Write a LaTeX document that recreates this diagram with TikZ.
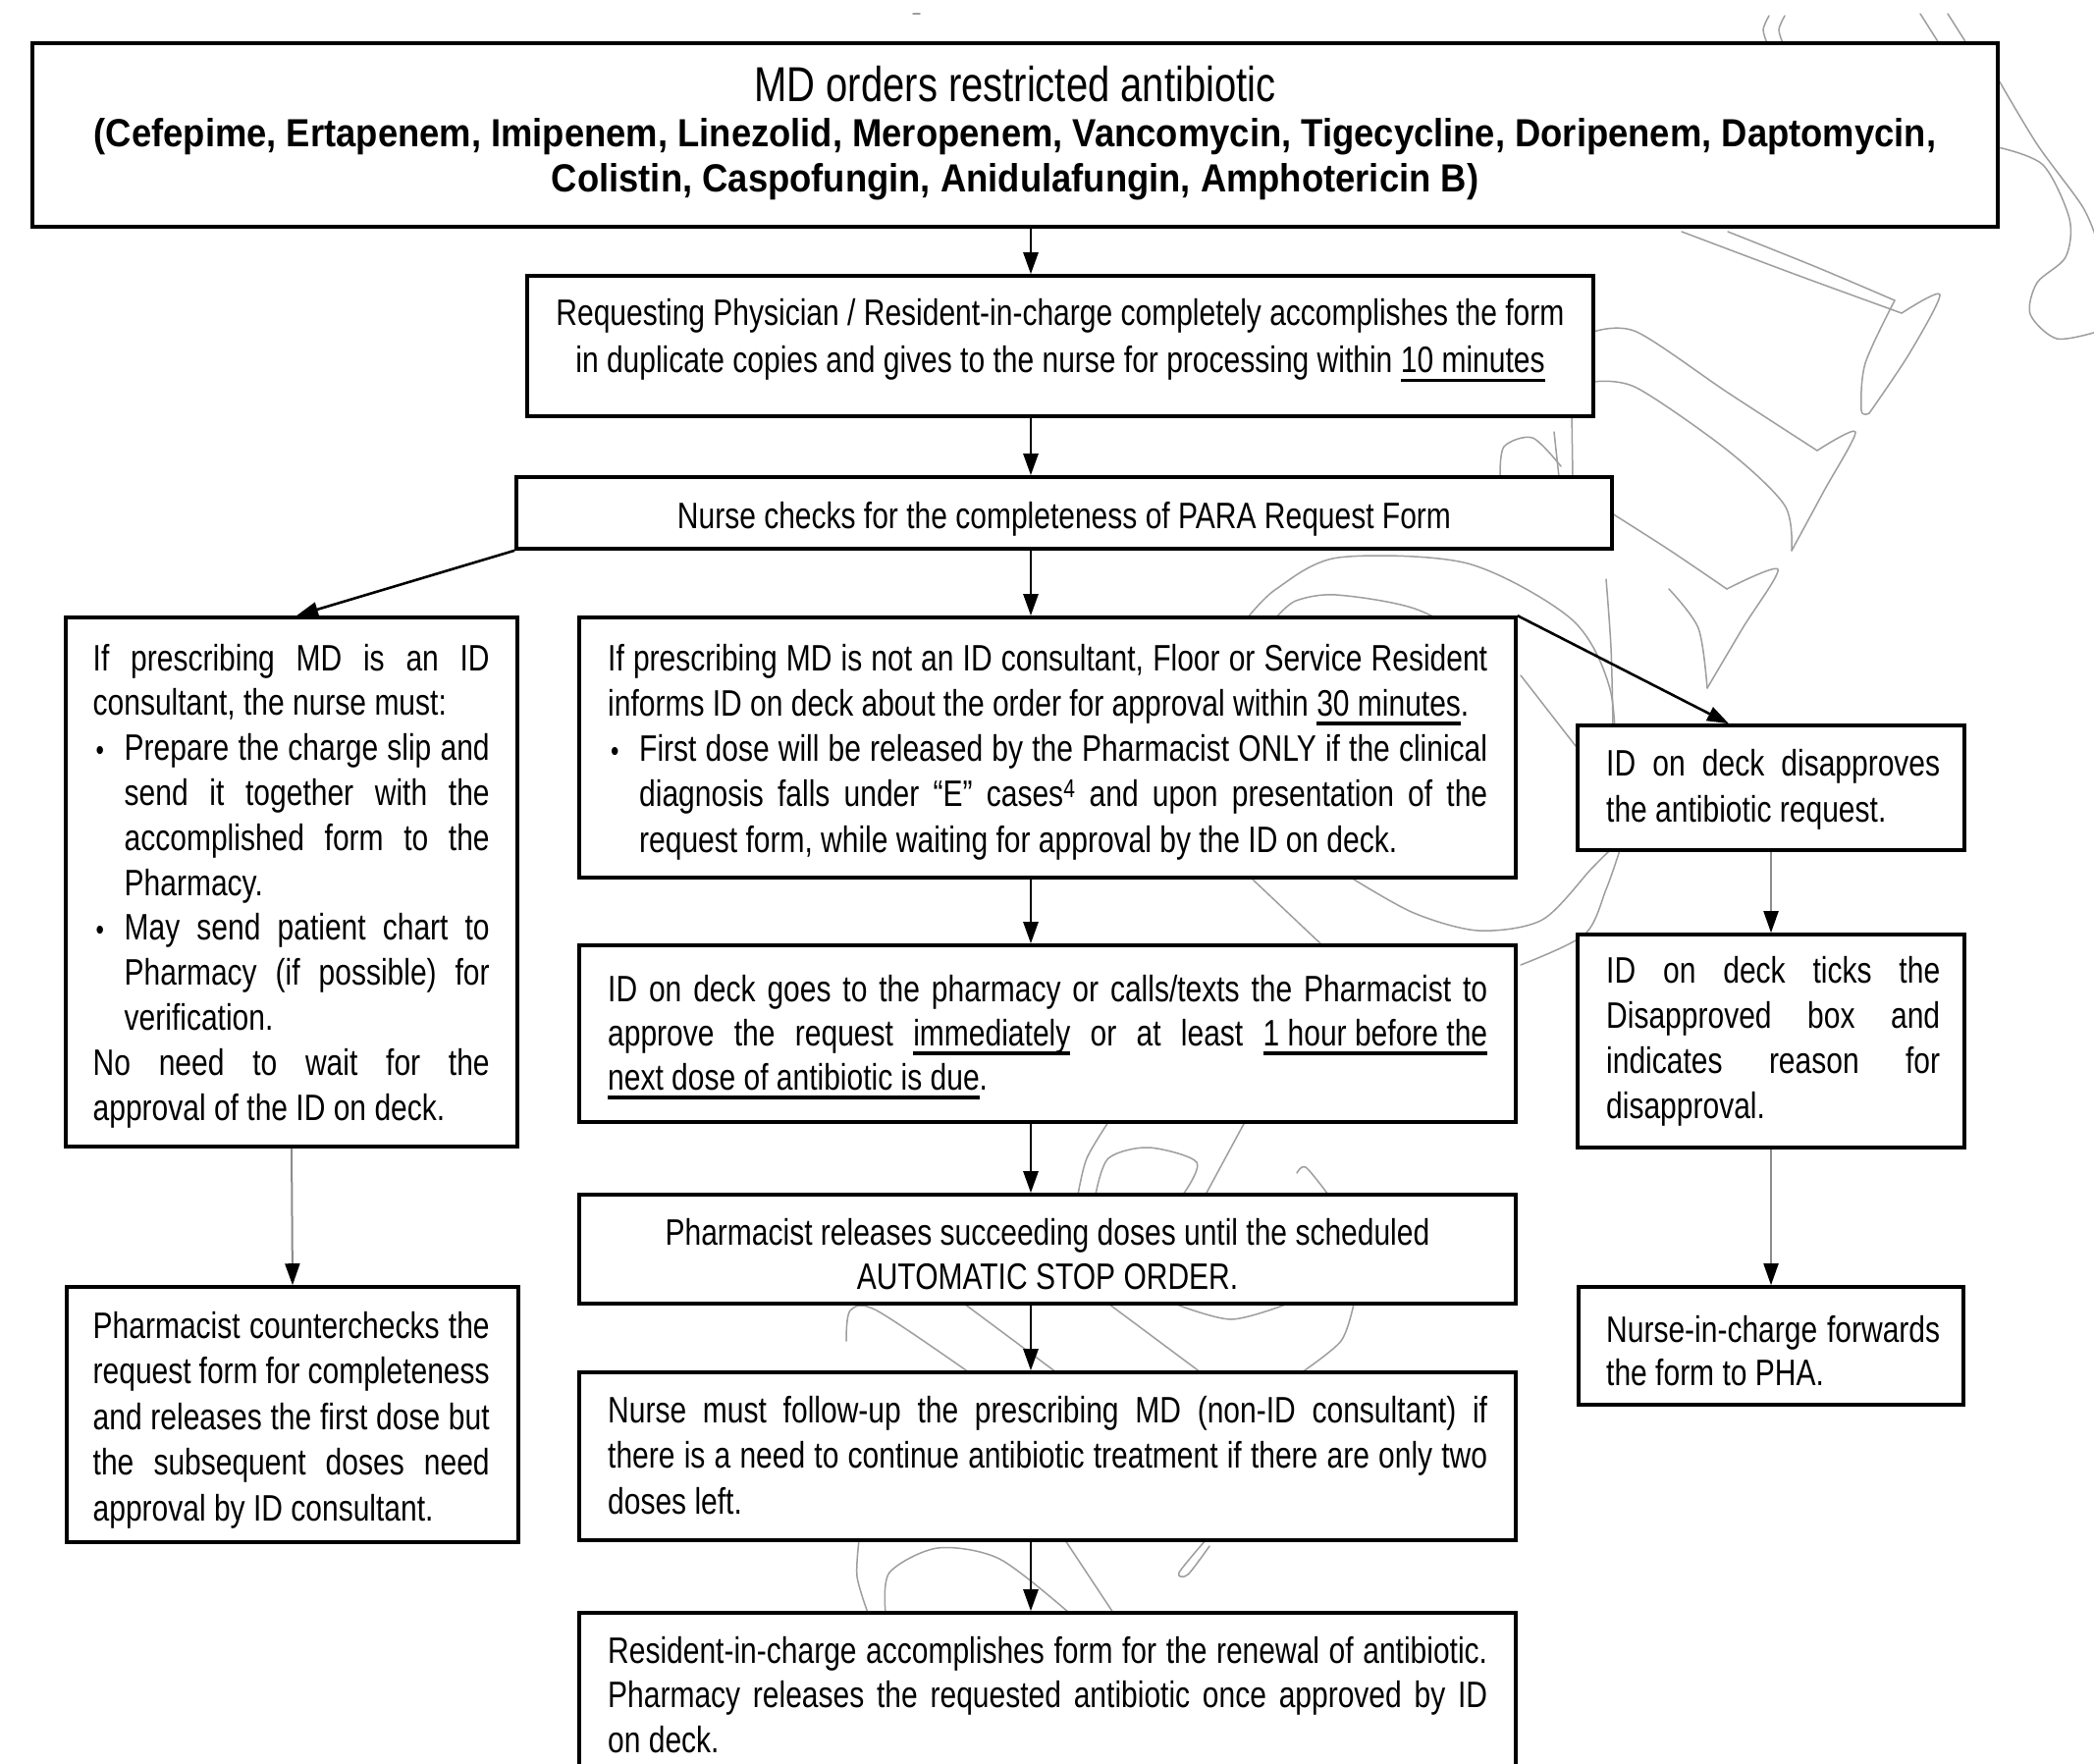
\documentclass[tikz,border=0pt]{standalone}
\usepackage{fontspec}
\setmainfont{Liberation Sans}[FakeStretch=0.8]
\newfontfamily\boldwide{Liberation Sans}[FakeStretch=0.91]
\usetikzlibrary{arrows.meta,calc}
\newcommand\JL[2]{\makebox[#1][s]{\spaceskip=8.34pt plus 40pt minus 2pt\relax\xspaceskip=\spaceskip #2}}
\newcommand\UL[1]{\leavevmode\setbox0\hbox{#1}\rlap{\rule[-9.5pt]{\wd0}{3.5pt}}\box0\relax}
\newcommand\fbody[1]{\fontsize{37.5}{#1}\selectfont}
\newcommand\sps{\spaceskip=8.34pt\relax\xspaceskip=8.34pt\relax}
\newcommand\bul{\makebox[32pt][l]{\hspace{3pt}{\fontsize{30}{30}\selectfont •}}}
\tikzset{
  box/.style={draw, fill=white, line width=3.6pt, inner sep=0pt, rectangle},
  tx/.style={inner sep=0pt, anchor=base west, align=left},
  ctx/.style={inner sep=0pt, anchor=base, align=center},
  arr/.style={line width=2.6pt, -{Triangle[length=22pt,width=15pt]}},
  garr/.style={line width=2pt, draw=black!45, -{Triangle[length=22pt,width=15pt,color=black]}},
  wm/.style={draw=black!38, line width=1.5pt, line cap=round, line join=round},
}
\begin{document}
\begin{tikzpicture}[x=1pt,y=-1pt]
\clip (0,0) rectangle (2133,1796);
\fill[white] (0,0) rectangle (2133,1796);
% ---- faint watermark strokes (behind the boxes)
\draw[wm] (930,14) -- (937,14);
\draw[wm] plot[smooth] coordinates {(1800,44) (1796,30) (1802,16)};
\draw[wm] plot[smooth] coordinates {(1816,44) (1812,30) (1818,16)};
\draw[wm] (1956,14) -- (1975,44);
\draw[wm] (1984,14) -- (2003,44);
\draw[wm] plot[smooth] coordinates {(2035,80) (2075,147) (2121,210) (2136,245)};
\draw[wm] plot[smooth] coordinates {(2035,150) (2081,168) (2108,223) (2104,262) (2075,288) (2068,320) (2095,345) (2136,338)};
\draw[wm] plot[smooth] coordinates {(1713,236) (1830,280) (1937,319)};
\draw[wm] plot[smooth] coordinates {(1760,236) (1850,272) (1930,306)};
\draw[wm] plot[smooth] coordinates {(1937,319) (1976,300) (1945,360) (1904,421)};
\draw[wm] plot[smooth] coordinates {(1930,306) (1900,370) (1896,418) (1904,421)};
\draw[wm] plot[smooth] coordinates {(1623,338) (1667,338) (1760,400) (1851,459)};
\draw[wm] plot[smooth] coordinates {(1851,459) (1890,440) (1858,500) (1825,561)};
\draw[wm] plot[smooth] coordinates {(1623,389) (1667,395) (1760,459) (1818,515) (1825,561)};
\draw[wm] plot[smooth] coordinates {(1642,523) (1700,560) (1759,600)};
\draw[wm] plot[smooth] coordinates {(1759,600) (1811,580) (1775,640) (1739,701)};
\draw[wm] plot[smooth] coordinates {(1700,600) (1730,640) (1739,701)};
\draw[wm] plot[smooth] coordinates {(1528,486) (1532,455) (1561,446) (1590,475)};
\draw[wm] (1583,440) -- (1588,486);
\draw[wm] (1601,421) -- (1602,486);
\draw[wm] plot[smooth] coordinates {(1271,629) (1300,600) (1363,568) (1495,574) (1601,631) (1640,702) (1647,797)};
\draw[wm] plot[smooth] coordinates {(1300,629) (1320,612) (1361,606) (1441,620) (1520,660)};
\draw[wm] (1549,688) -- (1605,760);
\draw[wm] plot[smooth] coordinates {(1636,590) (1641,660) (1643,738)};
\draw[wm] (1274,894) -- (1347,963);
\draw[wm] plot[smooth] coordinates {(1376,894) (1440,930) (1506,948) (1571,937) (1621,885) (1640,866)};
\draw[wm] plot[smooth] coordinates {(1549,983) (1614,952) (1636,906) (1650,866)};
\draw[wm] plot[smooth] coordinates {(1098,1217) (1107,1180) (1129,1143)};
\draw[wm] plot[smooth] coordinates {(1116,1217) (1129,1180) (1170,1169) (1219,1184) (1205,1217)};
\draw[wm] (1228,1217) -- (1268,1143);
\draw[wm] plot[smooth] coordinates {(1321,1195) (1330,1189) (1353,1217)};
\draw[wm] plot[smooth] coordinates {(862,1366) (866,1335) (893,1335) (987,1398)};
\draw[wm] (982,1328) -- (1076,1398);
\draw[wm] (1129,1328) -- (1223,1398);
\draw[wm] plot[smooth] coordinates {(1196,1328) (1254,1344) (1312,1328)};
\draw[wm] plot[smooth] coordinates {(1379,1328) (1366,1366) (1326,1398)};
\draw[wm] plot[smooth] coordinates {(875,1569) (873,1606) (884,1643)};
\draw[wm] plot[smooth] coordinates {(902,1643) (906,1602) (955,1577) (1018,1588) (1089,1643)};
\draw[wm] (1085,1569) -- (1134,1643);
\draw[wm] plot[smooth] coordinates {(1228,1569) (1201,1602) (1210,1604) (1232,1575)};
% ---- boxes
\node[box, line width=4.4pt, minimum width=2002pt, minimum height=187pt] (n1) at (1034,137.5) {};
\node[box, minimum width=1086pt, minimum height=143pt] (n2) at (1080,352.5) {};
\node[box, minimum width=1116pt, minimum height=73pt] (n3) at (1084,522.5) {};
\node[box, minimum width=460pt, minimum height=539pt] (A) at (297,898.5) {};
\node[box, minimum width=954pt, minimum height=265pt] (B) at (1067,761.5) {};
\node[box, minimum width=954pt, minimum height=180pt] (C) at (1067,1053) {};
\node[box, minimum width=954pt, minimum height=111pt] (D) at (1067,1272.5) {};
\node[box, minimum width=954pt, minimum height=171pt] (E) at (1067,1483.5) {};
\node[box, minimum width=954pt, minimum height=257pt] (F) at (1067,1771.5) {};
\node[box, minimum width=460pt, minimum height=260pt] (L2) at (298,1441) {};
\node[box, minimum width=394pt, minimum height=127pt] (R1) at (1804,802.5) {};
\node[box, minimum width=394pt, minimum height=217pt] (R2) at (1804,1060.5) {};
\node[box, minimum width=392pt, minimum height=120pt] (R3) at (1804,1371) {};
% ---- texts
\node[ctx, text width=2000pt, font={\boldwide\bfseries\fontsize{40}{46}\selectfont}] (n1t) at (1034,103) {%
  \spaceskip=10.1pt\relax\xspaceskip=10.1pt\relax
  {\mdseries\rmfamily\fontsize{50}{46}\selectfont\spaceskip=11.1pt\relax MD orders restricted antibiotic}\\
  (Cefepime, Ertapenem, Imipenem, Linezolid, Meropenem, Vancomycin, Tigecycline, Doripenem, Daptomycin,\\
  Colistin, Caspofungin, Anidulafungin, Amphotericin B)};
\node[ctx, text width=1080pt, font=\fbody{48}] (n2t) at (1080,331.5) {\sps
  Requesting Physician / Resident-in-charge completely accomplishes the form\\
  in duplicate copies and gives to the nurse for processing within \UL{10 minutes}};
\node[ctx, text width=1100pt, font=\fbody{46}] (n3t) at (1084,538) {\sps Nurse checks for the completeness of PARA Request Form};
\node[tx, text width=404pt, font=\fbody{45.8}] (At) at (94.5,683) {\sps
  \JL{404pt}{If prescribing MD is an ID}\\
  consultant, the nurse must:\\
  \bul\JL{372pt}{Prepare the charge slip and}\\
  \hspace*{32pt}\JL{372pt}{send it together with the}\\
  \hspace*{32pt}\JL{372pt}{accomplished form to the}\\
  \hspace*{32pt}Pharmacy.\\
  \bul\JL{372pt}{May send patient chart to}\\
  \hspace*{32pt}\JL{372pt}{Pharmacy (if possible) for}\\
  \hspace*{32pt}verification.\\
  \JL{404pt}{No need to wait for the}\\
  approval of the ID on deck.};
\node[tx, text width=896pt, font=\fbody{46.25}] (Bt) at (619,683) {\sps
  \JL{896pt}{If prescribing MD is not an ID consultant, Floor or Service Resident}\\
  \mbox{informs ID on deck about the order for approval within \UL{30 minutes}.}\\
  \bul\JL{864pt}{First dose will be released by the Pharmacist ONLY if the clinical}\\
  \hspace*{32pt}\JL{864pt}{diagnosis falls under “E” cases\textsuperscript{4} and upon presentation of the}\\
  \hspace*{32pt}\mbox{request form, while waiting for approval by the ID on deck.}};
\node[tx, text width=896pt, font=\fbody{45}] (Ct) at (619,1020) {\sps
  \JL{896pt}{ID on deck goes to the pharmacy or calls/texts the Pharmacist to}\\
  \JL{896pt}{approve the request \UL{immediately} or at least \UL{1 hour before the}}\\
  \UL{next dose of antibiotic is due}.};
\node[ctx, text width=950pt, font=\fbody{45}] (Dt) at (1067,1268) {\sps
  Pharmacist releases succeeding doses until the scheduled\\
  AUTOMATIC STOP ORDER.};
\node[tx, text width=896pt, font=\fbody{46.5}] (Et) at (619,1449) {\sps
  \JL{896pt}{Nurse must follow-up the prescribing MD (non-ID consultant) if}\\
  \JL{896pt}{there is a need to continue antibiotic treatment if there are only two}\\
  doses left.};
\node[tx, text width=896pt, font=\fbody{45.5}] (Ft) at (619,1694) {\sps
  \JL{896pt}{Resident-in-charge accomplishes form for the renewal of antibiotic.}\\
  \JL{896pt}{Pharmacy releases the requested antibiotic once approved by ID}\\
  on deck.};
\node[tx, text width=404pt, font=\fbody{46.5}] (L2t) at (94.5,1363) {\sps
  \JL{404pt}{Pharmacist counterchecks the}\\
  \JL{404pt}{request form for completeness}\\
  \JL{404pt}{and releases the first dose but}\\
  \JL{404pt}{the subsequent doses need}\\
  approval by ID consultant.};
\node[tx, text width=340pt, font=\fbody{47}] (R1t) at (1636,790) {\sps
  \JL{340pt}{ID on deck disapproves}\\
  the antibiotic request.};
\node[tx, text width=340pt, font=\fbody{46}] (R2t) at (1636,1001) {\sps
  \JL{340pt}{ID on deck ticks the}\\
  \JL{340pt}{Disapproved box and}\\
  \JL{340pt}{indicates reason for}\\
  disapproval.};
\node[tx, text width=340pt, font=\fbody{44}] (R3t) at (1636,1367) {\sps
  \JL{340pt}{Nurse-in-charge forwards}\\
  the form to PHA.};
% ---- connectors
\coordinate (xm) at (1050,0);
\coordinate (xa) at (302,0);
\coordinate (xr) at (1761,0);
\draw[arr] (n1.south -| xm) -- (n2.north -| xm);
\draw[arr] (n2.south -| xm) -- (n3.north -| xm);
\draw[arr] (n3.south -| xm) -- (B.north -| xm);
\draw[arr] (n3.south west) -- (A.north -| xa);
\draw[arr] (B.north east) -- (R1.north -| xr);
\draw[arr] (B.south -| xm) -- (C.north -| xm);
\draw[arr] (C.south -| xm) -- (D.north -| xm);
\draw[arr] (D.south -| xm) -- (E.north -| xm);
\draw[arr] (E.south -| xm) -- (F.north -| xm);
\draw[garr] (A.south) -- (L2.north);
\draw[garr] (R1.south) -- (R2.north);
\draw[garr] (R2.south) -- (R3.north);
\end{tikzpicture}
\end{document}
